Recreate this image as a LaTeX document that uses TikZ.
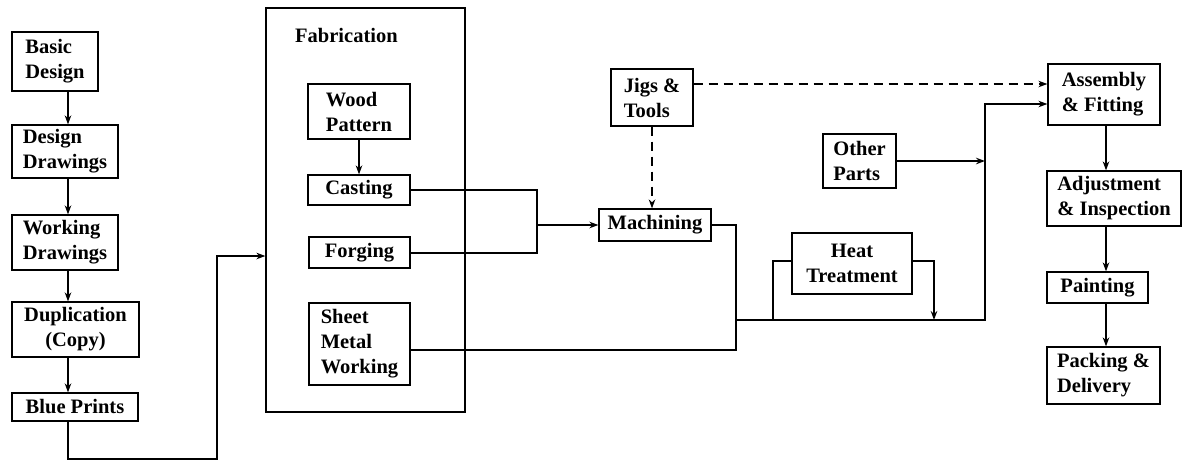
\documentclass[tikz,border=0pt]{standalone}
\usepackage{fontspec}
\setmainfont{Liberation Serif}
\usetikzlibrary{arrows.meta,calc}
\begin{document}
\begin{tikzpicture}[x=1pt,y=-1pt,
  box/.style={draw,line width=1.2pt,inner sep=0pt,align=left,
    font=\fontsize{20.5}{25}\selectfont\bfseries},
  conn/.style={line width=1.6pt,-{Stealth[length=9pt,width=6.5pt]}},
  plain/.style={line width=1.6pt},
  dconn/.style={line width=1.6pt,dash pattern=on 9pt off 6pt,-{Stealth[length=9pt,width=6.5pt]}},
  lbl/.style={inner sep=0pt,font=\fontsize{20.5}{25}\selectfont\bfseries}]
\useasboundingbox (0,0) rectangle (1182,461);
% left column
\node[box,minimum width=86,minimum height=59] (basic) at (55,61.5) {Basic\\Design};
\node[box,minimum width=106,minimum height=53] (design) at (65,151.5) {Design\\Drawings};
\node[box,minimum width=106,minimum height=55] (working) at (65,242.5) {Working\\Drawings};
\node[box,align=center,minimum width=127,minimum height=55] (dup) at (75.5,329.5) {Duplication\\(Copy)};
\node[box,minimum width=126,minimum height=28] (blue) at (75,407) {Blue Prints};
\coordinate (colx) at (68,0);
\draw[conn] (basic.south -| colx) -- (design.north -| colx);
\draw[conn] (design.south -| colx) -- (working.north -| colx);
\draw[conn] (working.south -| colx) -- (dup.north -| colx);
\draw[conn] (dup.south -| colx) -- (blue.north -| colx);
% fabrication
\node[box,minimum width=199,minimum height=404] (fab) at (365.5,210) {};
\node[lbl,anchor=west] (fablbl) at (295,35) {Fabrication};
\node[box,minimum width=102,minimum height=55] (wood) at (359,111.5) {Wood\\Pattern};
\node[box,minimum width=102,minimum height=30] (casting) at (359,190) {Casting};
\node[box,minimum width=101,minimum height=31] (forging) at (359.5,252.5) {Forging};
\node[box,minimum width=101,minimum height=82] (sheet) at (359.5,344) {Sheet\\Metal\\Working};
\draw[conn] (wood.south) -- (casting.north);
\coordinate (bp1) at (68,459);
\coordinate (bp2) at (217,459);
\coordinate (bp3) at (217,256);
\draw[conn] (blue.south -| bp1) -- (bp1) -- (bp2) -- (bp3) -- (fab.west |- bp3);
% machining
\node[box,minimum width=112,minimum height=32] (mach) at (655,225) {Machining};
\node[box,minimum width=82,minimum height=57] (jigs) at (652,97.5) {Jigs \&\\Tools};
\coordinate (j1) at (537,190);
\coordinate (j2) at (537,253);
\coordinate (j3) at (537,225);
\draw[plain] (casting.east) -- (j1) -- (j2) -- (forging.east |- j2);
\draw[conn] (j3) -- (mach.west);
\draw[dconn] (jigs.south) -- (jigs.south |- mach.north);
% right part
\node[box,minimum width=112,minimum height=61] (assy) at (1104,94.5) {Assembly\\\& Fitting};
\node[box,minimum width=134,minimum height=55] (adj) at (1114,198.5) {Adjustment\\\& Inspection};
\node[box,minimum width=101,minimum height=31] (paint) at (1097.5,287.5) {Painting};
\node[box,minimum width=113,minimum height=57] (pack) at (1103.5,375.5) {Packing \&\\Delivery};
\node[box,minimum width=73,minimum height=54] (other) at (859.5,161) {Other\\Parts};
\node[box,align=center,minimum width=120,minimum height=61] (heat) at (852,263.5) {Heat\\Treatment};
\coordinate (dy) at (0,84);
\draw[dconn] (jigs.east |- dy) -- (assy.west |- dy);
\coordinate (m1) at (736,225);
\coordinate (m2) at (736,350);
\coordinate (bus0) at (736,320);
\coordinate (h1) at (773,320);
\coordinate (h2) at (773,261);
\coordinate (h3) at (934,261);
\coordinate (h4) at (934,320);
\coordinate (b1) at (985,320);
\coordinate (b2) at (985,104);
\draw[plain] (mach.east |- m1) -- (m1) -- (m2) -- (sheet.east |- m2);
\draw[plain] (h1) -- (h2) -- (heat.west |- h2);
\draw[conn] (heat.east |- h3) -- (h3) -- (h4);
\draw[conn] (bus0) -- (b1) -- (b2) -- (assy.west |- b2);
\draw[conn] (other.east) -- (other.east -| b1);
\coordinate (colr) at (1106,0);
\draw[conn] (assy.south -| colr) -- (adj.north -| colr);
\draw[conn] (adj.south -| colr) -- (paint.north -| colr);
\draw[conn] (paint.south -| colr) -- (pack.north -| colr);
\end{tikzpicture}
\end{document}
